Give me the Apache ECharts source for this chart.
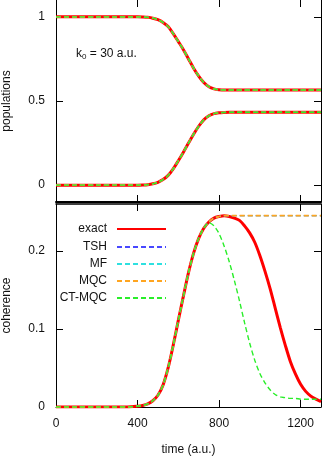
<!DOCTYPE html>
<html>
<head>
<meta charset="utf-8">
<style>
	html, body { margin: 0; padding: 0; background: #fff; }
	#chart { width: 322px; height: 457px; }
</style>
</head>
<body>
<div id="chart"></div>
<script src="https://cdn.jsdelivr.net/npm/echarts@6/dist/echarts.min.js"></script>
<script>
	// time grid (a.u.)
	var times = [0, 100, 200, 300, 350, 400, 425, 450, 475, 500, 525, 550, 575, 600, 625, 650, 675, 700, 725, 750,
		775, 800, 825, 850, 875, 900, 925, 950, 975, 1000, 1025, 1050, 1075, 1100, 1125, 1150, 1175, 1200, 1225, 1250, 1275, 1300];

	// populations (same for all methods, curves overlap)
	var popUpper = [1, 1, 1, 1, 1, 1, 0.999, 0.997, 0.992, 0.983, 0.967, 0.942, 0.9, 0.853, 0.805, 0.75, 0.695, 0.648, 0.61, 0.585,
		0.572, 0.567, 0.565, 0.565, 0.565, 0.565, 0.565, 0.565, 0.565, 0.565, 0.565, 0.565, 0.565, 0.565, 0.565, 0.565, 0.565, 0.565, 0.565, 0.565, 0.565, 0.565];
	var popLower = [0, 0, 0, 0, 0, 0, 0.001, 0.003, 0.008, 0.017, 0.033, 0.058, 0.097, 0.145, 0.196, 0.25, 0.303, 0.35, 0.388, 0.412,
		0.425, 0.43, 0.432, 0.433, 0.433, 0.433, 0.433, 0.433, 0.433, 0.433, 0.433, 0.433, 0.433, 0.433, 0.433, 0.433, 0.433, 0.433, 0.433, 0.433, 0.433, 0.433];

	// coherence
	var cohExact = [0, 0, 0, 0, 0, 0.001, 0.002, 0.004, 0.008, 0.015, 0.028, 0.05, 0.079, 0.111, 0.142, 0.172, 0.197, 0.216, 0.229, 0.237,
		0.242, 0.244, 0.245, 0.244, 0.242, 0.239, 0.232, 0.223, 0.211, 0.194, 0.174, 0.152, 0.127, 0.102, 0.079, 0.058, 0.042, 0.029, 0.02, 0.014, 0.01, 0.007];
	var cohMqc = [0, 0, 0, 0, 0, 0.001, 0.002, 0.004, 0.008, 0.015, 0.028, 0.05, 0.079, 0.111, 0.142, 0.172, 0.197, 0.216, 0.229, 0.237,
		0.242, 0.244, 0.245, 0.245, 0.245, 0.245, 0.245, 0.245, 0.245, 0.245, 0.245, 0.245, 0.245, 0.245, 0.245, 0.245, 0.245, 0.245, 0.245, 0.245, 0.245, 0.245];
	var cohCtMqc = [0, 0, 0, 0, 0, 0.001, 0.002, 0.004, 0.008, 0.015, 0.028, 0.05, 0.079, 0.111, 0.142, 0.172, 0.197, 0.216, 0.229, 0.236,
		0.232, 0.222, 0.206, 0.186, 0.162, 0.136, 0.108, 0.082, 0.06, 0.043, 0.031, 0.022, 0.016, 0.013, 0.012, 0.011, 0.011, 0.01, 0.01, 0.01, 0.01, 0.01];

	var xTicks = [0, 400, 800, 1200];
	var popTicks = [0, 0.5, 1];
	var cohTicks = [0, 0.1, 0.2];

	var methods = ['exact', 'TSH', 'MF', 'MQC', 'CT-MQC'];
	var colors = ['#ff0000', '#4848ff', '#2ee0e0', '#ffa520', '#2aee2a'];
	var widths = [3, 1.2, 1.2, 1.8, 1.4];

	function pairs(ys) {
		var out = [];
		for (var i = 0; i < times.length; i++) {
			out.push([times[i], ys[i]]);
		}
		return out;
	}

	function makeLine(name, idx, ys, axis) {
		var exact = idx === 0;
		return {
			name: name,
			type: 'line',
			xAxisIndex: axis,
			yAxisIndex: axis,
			data: pairs(ys),
			symbol: 'none',
			smooth: 0.3,
			z: 2 + idx,
			lineStyle: {
				color: colors[idx],
				width: widths[idx],
				type: exact ? 'solid' : [5, 3]
			},
			itemStyle: { color: colors[idx] }
		};
	}

	var seriesData = [];
	for (var m = 0; m < methods.length; m++) {
		seriesData.push(makeLine(methods[m], m, popUpper, 0));
		seriesData.push(makeLine(methods[m], m, popLower, 0));
	}
	var cohList = [cohExact, cohMqc, cohMqc, cohMqc, cohCtMqc];
	for (var m = 0; m < methods.length; m++) {
		seriesData.push(makeLine(methods[m], m, cohList[m], 2));
	}

	var font = 'Liberation Sans, Arial, sans-serif';
	function xAx(grid, pos, lineW, showLabels, name) {
		return {
			type: 'value', gridIndex: grid, position: pos, min: 0, max: 1300,
			name: name || '', nameLocation: 'middle', nameGap: 37,
			nameTextStyle: { fontFamily: font, fontSize: 12, color: '#111' },
			axisLine: { show: lineW > 0, onZero: false, lineStyle: { color: '#000', width: lineW } },
			axisTick: { show: true, inside: true, length: 7, customValues: xTicks, lineStyle: { color: '#000' } },
			axisLabel: {
				show: showLabels, customValues: xTicks, margin: 11, fontFamily: font, fontSize: 12, color: '#111',
				alignMinLabel: 'center', alignMaxLabel: 'center',
				formatter: function(v) { return String(v); }
			},
			splitLine: { show: false }
		};
	}
	function yAx(grid, pos, min, max, ticks, showLabels, name) {
		return {
			type: 'value', gridIndex: grid, position: pos, min: min, max: max,
			name: name || '', nameLocation: 'middle', nameGap: 43,
			nameTextStyle: { fontFamily: font, fontSize: 12, color: '#111' },
			axisLine: { show: true, onZero: false, lineStyle: { color: '#000', width: 1 } },
			axisTick: { show: true, inside: true, length: 7, customValues: ticks, lineStyle: { color: '#000' } },
			axisLabel: {
				show: showLabels, customValues: ticks, margin: 11, fontFamily: font, fontSize: 12, color: '#111',
				formatter: function(v) { return String(v); }
			},
			splitLine: { show: false }
		};
	}

	// one legend per row, anchored at the right end of the line sample
	var legendTops = [218, 236, 253, 270, 287];
	var legends = [];
	for (var m = 0; m < methods.length; m++) {
		legends.push({
			data: [methods[m]],
			orient: 'vertical',
			align: 'right',
			right: 150, top: legendTops[m],
			itemWidth: 49, itemHeight: 12,
			itemStyle: { opacity: 0 },
			textStyle: { fontFamily: font, fontSize: 12, color: '#111', padding: [0, 5, 0, 0] }
		});
	}

	var myChart = echarts.init(document.getElementById('chart'));
	var option = {
		animation: false,
		title: {
			text: '{a|k}{b|0}{a| = 30 a.u.}',
			left: 71, top: 42,
			textStyle: {
				rich: {
					a: { fontFamily: font, fontSize: 12, fontWeight: 'normal', color: '#111' },
					b: { fontFamily: font, fontSize: 8, fontWeight: 'normal', color: '#111', padding: [6, 0, 0, 0] }
				}
			}
		},
		grid: [
			{ left: 56, top: 0, width: 265, height: 202, outerBoundsMode: 'none' },
			{ left: 56, top: 204, width: 265, height: 203, outerBoundsMode: 'none' }
		],
		legend: legends,
		xAxis: [
			xAx(0, 'bottom', 2, false),
			xAx(0, 'top', 0, false),
			xAx(1, 'bottom', 1, true, 'time (a.u.)'),
			xAx(1, 'top', 1.5, false)
		],
		yAxis: [
			yAx(0, 'left', -0.1, 1.1, popTicks, true, 'populations'),
			yAx(0, 'right', -0.1, 1.1, popTicks, false),
			yAx(1, 'left', 0, 0.26, cohTicks, true, 'coherence'),
			yAx(1, 'right', 0, 0.26, cohTicks, false)
		],
		series: seriesData
	};
	myChart.setOption(option);
	window.addEventListener("resize", function() {
		myChart.resize();
	});
</script>
</body>
</html>
